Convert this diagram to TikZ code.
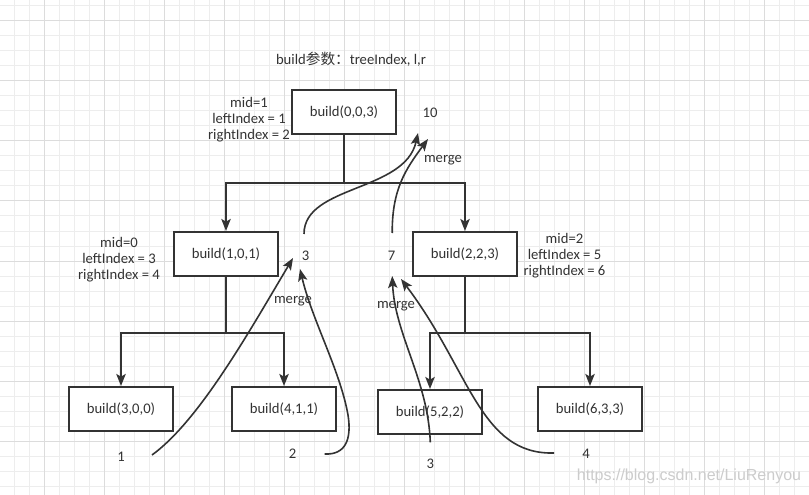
\documentclass[tikz,border=0pt]{standalone}
\usepackage{fontspec}
\setmainfont{Carlito}
\newfontfamily\cjk{Noto Sans CJK SC}
\newfontfamily\wmfont{Liberation Sans}
\usepackage{tikz}
\usetikzlibrary{arrows.meta,calc}
\definecolor{lineC}{HTML}{333333}
\definecolor{gridMinor}{HTML}{EDEDED}
\definecolor{gridMajor}{HTML}{DCDCDC}

\begin{document}
\begin{tikzpicture}[
    x=0.75pt, y=-0.75pt,
    every node/.style={font=\fontsize{11}{12}\selectfont, text=lineC, inner sep=1pt},
    callbox/.style={draw=lineC, line width=1.5pt, fill=white, minimum width=78pt, minimum height=33pt},
    tree/.style={draw=lineC, line width=1.5pt, -{Stealth[length=9pt,width=7pt,inset=2pt]}},
    merge/.style={draw=lineC, line width=1.2pt, -{Stealth[length=9pt,width=7pt,inset=2pt]}},
    info/.style={align=center}
]
% background grid
\fill[white] (0,0) rectangle (809,495);
\useasboundingbox (0,0) rectangle (809,495);
\foreach \x in {14,29,...,809} \draw[gridMinor, line width=0.75pt] (\x,0) -- (\x,495);
\foreach \y in {6,21,...,495} \draw[gridMinor, line width=0.75pt] (0,\y) -- (809,\y);
\foreach \x in {44,104,...,809} \draw[gridMajor, line width=0.75pt] (\x,0) -- (\x,495);
\foreach \y in {21,81,...,495} \draw[gridMajor, line width=0.75pt] (0,\y) -- (809,\y);

\node (title) at (351,59) {build{\cjk 参数：}treeIndex, l,r};

% build calls
\node[callbox] (b0) at (344,112) {build(0,0,3)};
\node[callbox] (b1) at (226,254) {build(1,0,1)};
\node[callbox] (b2) at (465,254) {build(2,2,3)};
\node[callbox] (b3) at (121,409) {build(3,0,0)};
\node[callbox] (b4) at (284,409) {build(4,1,1)};
\node[callbox] (b5) at (430,412) {build(5,2,2)};
\node[callbox] (b6) at (590,409) {build(6,3,3)};

\node[info] (i0) at (249,119.5) {mid=1\\leftIndex = 1\\rightIndex = 2};
\node[info] (i1) at (119,259.5) {mid=0\\leftIndex = 3\\rightIndex = 4};
\node[info] (i2) at (564.5,255.5) {mid=2\\leftIndex = 5\\rightIndex = 6};

\draw[tree] (b0.south) -- ++(0,48) -| (b1.north);
\draw[tree] (b0.south) -- ++(0,48) -| (b2.north);
\draw[tree] (b1.south) -- ++(0,56) -| (b3.north);
\draw[tree] (b1.south) -- ++(0,56) -| (b4.north);
\draw[tree] (b2.south) -- ++(0,56) -| (b5.north);
\draw[tree] (b2.south) -- ++(0,56) -| (b6.north);

% returned values
\node (v10) at (430,113) {10};
\node (s3) at (305.5,256) {3};
\node (s7) at (391.7,256) {7};
\node (one) at (121,457) {1};
\node (two) at (292.7,454) {2};
\node (three) at (430.3,463.3) {3};
\node (four) at (586,454) {4};

\node (m0) at (443,160) {merge};
\node (m1) at (293,301) {merge};
\node (m2) at (396,306) {merge};

\draw[merge] ($(one)+(31,-2)$) .. controls (200,420) and (250,330) .. ($(s3)+(-12.5,2)$);
\draw[merge] ($(two)+(32,0)$) .. controls (345,455) and (352,440) .. (348,415)
    .. controls (340,370) and (312,320) .. ($(s3)+(-5.5,13)$);
\draw[merge] ($(s3)+(-1.5,-22)$) .. controls (304,185) and (405,192) .. ($(v10)+(-12,20)$);
\draw[merge] ($(s7)+(0.5,-23)$) .. controls (392,190) and (405,170) .. ($(v10)+(-2,26)$);
\draw[merge] ($(three)+(0,-21)$) .. controls (428,380) and (395,335) .. ($(s7)+(0.5,20)$);
\draw[merge] ($(four)+(-32,-1)$) .. controls (480,455) and (470,370) .. ($(s7)+(9.3,23)$);

\node[font=\wmfont\fontsize{12}{12}\selectfont, text=gray!40] (wm) at (689,476) {https://blog.csdn.net/LiuRenyou};
\end{tikzpicture}
\end{document}
